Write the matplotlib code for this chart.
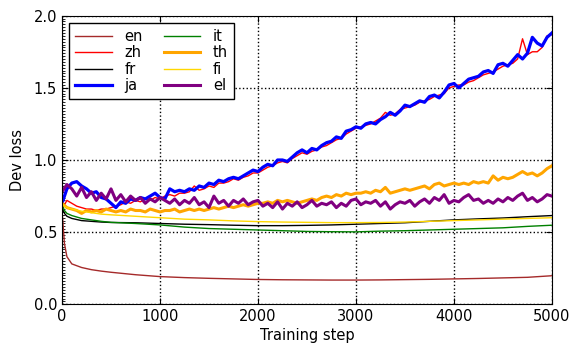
import matplotlib
matplotlib.use('Agg')
import matplotlib.pyplot as plt
from matplotlib.ticker import MultipleLocator
import numpy as np

# dev loss curves per language
steps_n = np.arange(0, 5001, 50)   # noisy curves
steps_s = [0, 25, 50, 100, 200, 300, 400, 500, 750, 1000, 1250, 1500, 1750, 2000,
           2250, 2500, 2750, 3000, 3250, 3500, 3750, 4000, 4250, 4500, 4750, 5000]

en = [0.65, 0.42, 0.33, 0.28, 0.255, 0.24, 0.23, 0.222, 0.205, 0.192, 0.185, 0.18, 0.176,
      0.172, 0.17, 0.169, 0.168, 0.168, 0.169, 0.171, 0.173, 0.176, 0.179, 0.183, 0.187, 0.198]
fr = [0.67, 0.63, 0.61, 0.595, 0.58, 0.575, 0.57, 0.567, 0.565, 0.56, 0.555, 0.552, 0.548,
      0.545, 0.545, 0.547, 0.55, 0.555, 0.56, 0.565, 0.575, 0.585, 0.592, 0.598, 0.607, 0.615]
it = [0.69, 0.65, 0.63, 0.615, 0.595, 0.585, 0.575, 0.568, 0.56, 0.55, 0.535, 0.525, 0.52,
      0.515, 0.51, 0.505, 0.503, 0.502, 0.507, 0.51, 0.515, 0.52, 0.525, 0.53, 0.54, 0.548]
fi = [0.70, 0.68, 0.67, 0.66, 0.645, 0.635, 0.625, 0.62, 0.61, 0.60, 0.59, 0.585, 0.578,
      0.573, 0.57, 0.568, 0.566, 0.566, 0.567, 0.57, 0.575, 0.58, 0.585, 0.59, 0.595, 0.60]

ja = [0.70, 0.80, 0.84, 0.85, 0.82, 0.80, 0.77, 0.78, 0.74, 0.73,
      0.70, 0.67, 0.71, 0.70, 0.73, 0.72, 0.74, 0.73, 0.75, 0.77,
      0.74, 0.73, 0.80, 0.78, 0.79, 0.78, 0.80, 0.79, 0.82, 0.81,
      0.84, 0.83, 0.86, 0.85, 0.87, 0.88, 0.87, 0.89, 0.91, 0.93,
      0.92, 0.95, 0.97, 0.96, 1.00, 1.00, 0.99, 1.02, 1.05, 1.07,
      1.05, 1.08, 1.07, 1.10, 1.12, 1.13, 1.16, 1.15, 1.20, 1.21,
      1.23, 1.22, 1.25, 1.26, 1.25, 1.28, 1.30, 1.33, 1.31, 1.34,
      1.38, 1.37, 1.39, 1.41, 1.40, 1.44, 1.45, 1.43, 1.47, 1.52,
      1.53, 1.50, 1.53, 1.56, 1.57, 1.58, 1.61, 1.62, 1.60, 1.66,
      1.67, 1.65, 1.69, 1.73, 1.70, 1.74, 1.85, 1.81, 1.79, 1.85,
      1.88]
zh = [0.66, 0.72, 0.70, 0.68, 0.67, 0.66, 0.66, 0.65, 0.66, 0.66,
      0.67, 0.68, 0.69, 0.71, 0.70, 0.72, 0.71, 0.73, 0.72, 0.74,
      0.73, 0.75, 0.76, 0.75, 0.77, 0.77, 0.78, 0.82, 0.79, 0.80,
      0.82, 0.81, 0.84, 0.84, 0.85, 0.87, 0.86, 0.88, 0.89, 0.91,
      0.91, 0.93, 0.95, 0.96, 0.98, 0.99, 0.98, 1.01, 1.03, 1.05,
      1.04, 1.06, 1.07, 1.09, 1.10, 1.12, 1.14, 1.15, 1.18, 1.20,
      1.22, 1.23, 1.24, 1.25, 1.27, 1.29, 1.33, 1.31, 1.32, 1.35,
      1.36, 1.37, 1.38, 1.40, 1.41, 1.42, 1.44, 1.45, 1.46, 1.50,
      1.51, 1.52, 1.52, 1.54, 1.55, 1.57, 1.59, 1.60, 1.61, 1.63,
      1.65, 1.66, 1.67, 1.70, 1.84, 1.73, 1.75, 1.75, 1.78, 1.86,
      1.87]
el = [0.78, 0.83, 0.80, 0.75, 0.81, 0.74, 0.78, 0.72, 0.77, 0.73,
      0.80, 0.72, 0.76, 0.71, 0.75, 0.72, 0.74, 0.70, 0.73, 0.71,
      0.74, 0.72, 0.70, 0.73, 0.69, 0.72, 0.70, 0.74, 0.69, 0.71,
      0.67, 0.75, 0.70, 0.72, 0.68, 0.72, 0.70, 0.73, 0.69, 0.71,
      0.72, 0.68, 0.70, 0.67, 0.71, 0.66, 0.70, 0.68, 0.71, 0.67,
      0.69, 0.72, 0.68, 0.70, 0.69, 0.71, 0.67, 0.70, 0.68, 0.72,
      0.73, 0.69, 0.71, 0.70, 0.72, 0.68, 0.71, 0.66, 0.69, 0.71,
      0.70, 0.72, 0.68, 0.71, 0.73, 0.70, 0.74, 0.72, 0.76, 0.70,
      0.72, 0.71, 0.74, 0.76, 0.72, 0.73, 0.70, 0.72, 0.70, 0.73,
      0.71, 0.74, 0.72, 0.75, 0.77, 0.72, 0.74, 0.71, 0.73, 0.76,
      0.75]
th = [0.70, 0.67, 0.66, 0.65, 0.63, 0.65, 0.64, 0.65, 0.64, 0.66,
      0.65, 0.64, 0.65, 0.64, 0.66, 0.65, 0.65, 0.64, 0.66, 0.65,
      0.64, 0.65, 0.65, 0.66, 0.64, 0.65, 0.66, 0.65, 0.66, 0.65,
      0.66, 0.67, 0.66, 0.67, 0.68, 0.67, 0.68, 0.69, 0.68, 0.69,
      0.70, 0.70, 0.71, 0.70, 0.72, 0.71, 0.72, 0.71, 0.70, 0.71,
      0.72, 0.73, 0.72, 0.74, 0.75, 0.74, 0.76, 0.75, 0.77, 0.76,
      0.77, 0.77, 0.78, 0.77, 0.79, 0.78, 0.81, 0.77, 0.78, 0.79,
      0.80, 0.79, 0.80, 0.81, 0.82, 0.80, 0.83, 0.84, 0.82, 0.83,
      0.84, 0.83, 0.84, 0.83, 0.85, 0.84, 0.85, 0.84, 0.89, 0.86,
      0.88, 0.87, 0.88, 0.90, 0.92, 0.90, 0.91, 0.89, 0.91, 0.94,
      0.96]

plt.rcParams['font.family'] = 'DejaVu Sans'
plt.rcParams['font.size'] = 10.5

fig = plt.figure(figsize=(5.71, 3.44), dpi=100)
ax = fig.add_axes([0.1086, 0.1154, 0.858, 0.839])

ax.plot(steps_s, en, color='brown', lw=1, label='en')
ax.plot(steps_n, zh, color='red', lw=1, label='zh')
ax.plot(steps_s, fr, color='black', lw=1, label='fr')
ax.plot(steps_n, ja, color='blue', lw=2.3, label='ja')
ax.plot(steps_s, it, color='green', lw=1, label='it')
ax.plot(steps_n, th, color='orange', lw=2.2, label='th')
ax.plot(steps_s, fi, color='gold', lw=1, label='fi')
ax.plot(steps_n, el, color='purple', lw=2.2, label='el')

ax.set_xlim(0, 5000)
ax.set_ylim(0, 2.0)
ax.set_xticks([0, 1000, 2000, 3000, 4000, 5000])
ax.set_yticks([0.0, 0.5, 1.0, 1.5, 2.0])
ax.yaxis.set_minor_locator(MultipleLocator(0.02))
ax.grid(True, color='black', linestyle=':', linewidth=1)
ax.tick_params(direction='in', top=True, right=True, length=4.5)
ax.tick_params(axis='y', which='minor', direction='in', left=True, right=False, length=2)
ax.set_xlabel('Training step', labelpad=3)
ax.set_ylabel('Dev loss', labelpad=6)

leg = ax.legend(loc='upper left', ncol=2, fancybox=False, edgecolor='black',
                framealpha=1, handlelength=2.5, columnspacing=1.4,
                labelspacing=0.1, borderaxespad=0.5, handletextpad=0.9)
leg.get_frame().set_linewidth(1)

fig.savefig('out.png', dpi=100)
